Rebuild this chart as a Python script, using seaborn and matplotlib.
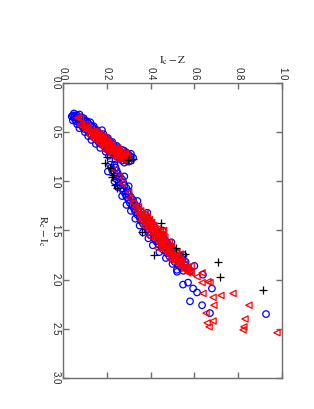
import matplotlib
matplotlib.use('Agg')
import matplotlib.pyplot as plt
import seaborn as sns
import pandas as pd

# (R_c - I_c, I_c - Z) pairs
blue_pts = [
    (0.33, 0.045), (0.33, 0.055), (0.33, 0.065),
    (0.35, 0.05), (0.35, 0.06), (0.35, 0.075), (0.35, 0.085),
    (0.37, 0.055), (0.37, 0.07), (0.37, 0.09),
    (0.39, 0.06), (0.39, 0.08), (0.39, 0.10), (0.39, 0.11),
    (0.41, 0.075), (0.41, 0.095), (0.41, 0.115),
    (0.43, 0.085), (0.43, 0.10), (0.43, 0.125),
    (0.45, 0.09), (0.45, 0.115), (0.45, 0.135),
    (0.47, 0.10), (0.47, 0.125), (0.47, 0.145), (0.48, 0.178),
    (0.49, 0.115), (0.49, 0.135), (0.49, 0.155),
    (0.51, 0.12), (0.51, 0.145), (0.51, 0.165),
    (0.53, 0.13), (0.53, 0.155), (0.53, 0.175),
    (0.55, 0.14), (0.55, 0.165), (0.55, 0.19),
    (0.57, 0.15), (0.57, 0.175), (0.57, 0.20),
    (0.59, 0.16), (0.59, 0.185), (0.59, 0.21),
    (0.61, 0.165), (0.61, 0.195), (0.61, 0.22),
    (0.63, 0.18), (0.63, 0.205), (0.63, 0.23),
    (0.65, 0.19), (0.65, 0.215), (0.65, 0.24),
    (0.67, 0.20), (0.67, 0.225), (0.67, 0.25),
    (0.69, 0.21), (0.69, 0.235), (0.69, 0.26), (0.69, 0.28),
    (0.71, 0.22), (0.71, 0.245), (0.71, 0.27), (0.71, 0.29),
    (0.73, 0.235), (0.73, 0.255), (0.73, 0.28), (0.73, 0.30),
    (0.75, 0.245), (0.75, 0.27), (0.75, 0.29), (0.75, 0.31),
    (0.77, 0.26), (0.77, 0.28), (0.77, 0.30),
    (0.79, 0.27), (0.79, 0.29), (0.79, 0.31),
    (0.31, 0.05), (0.32, 0.075), (0.34, 0.04), (0.36, 0.095),
    (0.38, 0.045), (0.40, 0.125), (0.42, 0.065), (0.44, 0.14),
    (0.46, 0.075), (0.48, 0.155), (0.50, 0.10), (0.52, 0.185),
    (0.54, 0.115), (0.56, 0.205), (0.58, 0.13), (0.60, 0.225),
    (0.62, 0.15), (0.64, 0.245), (0.66, 0.17), (0.68, 0.27),
    (0.70, 0.195), (0.72, 0.31), (0.74, 0.21), (0.76, 0.32),
    (0.78, 0.24), (0.80, 0.30), (0.81, 0.28),
    (0.83, 0.215), (0.83, 0.235), (0.86, 0.22), (0.86, 0.24),
    (0.89, 0.225), (0.89, 0.245), (0.92, 0.235), (0.92, 0.25),
    (0.95, 0.24), (0.95, 0.26), (0.98, 0.245), (0.98, 0.27),
    (1.01, 0.255), (1.01, 0.275), (1.04, 0.26), (1.04, 0.28),
    (1.07, 0.27), (1.07, 0.29), (1.10, 0.275), (1.10, 0.295),
    (1.13, 0.285), (1.13, 0.30), (1.16, 0.29), (1.16, 0.31),
    (1.19, 0.30), (1.19, 0.32), (1.22, 0.305), (1.22, 0.325),
    (1.25, 0.315), (1.25, 0.335), (1.28, 0.325), (1.28, 0.345),
    (1.31, 0.33), (1.31, 0.355),
    (1.34, 0.34), (1.34, 0.36), (1.34, 0.375),
    (1.37, 0.35), (1.37, 0.37), (1.37, 0.385),
    (1.40, 0.355), (1.40, 0.38), (1.40, 0.395),
    (1.43, 0.365), (1.43, 0.39), (1.43, 0.405),
    (1.46, 0.375), (1.46, 0.40), (1.46, 0.415),
    (1.49, 0.385), (1.49, 0.405), (1.49, 0.425),
    (1.52, 0.39), (1.52, 0.415), (1.52, 0.435),
    (1.55, 0.40), (1.55, 0.425), (1.55, 0.45),
    (1.58, 0.415), (1.58, 0.44), (1.58, 0.46),
    (1.61, 0.425), (1.61, 0.45), (1.61, 0.47),
    (1.64, 0.435), (1.64, 0.46), (1.64, 0.48),
    (1.67, 0.45), (1.67, 0.47), (1.67, 0.495),
    (1.70, 0.46), (1.70, 0.485), (1.70, 0.505),
    (1.73, 0.475), (1.73, 0.50), (1.73, 0.52),
    (1.76, 0.485), (1.76, 0.51), (1.76, 0.535),
    (1.79, 0.50), (1.79, 0.525), (1.79, 0.545),
    (1.82, 0.51), (1.82, 0.54), (1.82, 0.56),
    (1.85, 0.525), (1.85, 0.555), (1.88, 0.54), (1.88, 0.565),
    (1.91, 0.55), (1.91, 0.58),
    (0.90, 0.205), (1.00, 0.235), (1.06, 0.25), (1.15, 0.27),
    (1.24, 0.29), (1.30, 0.31), (1.38, 0.33), (1.45, 0.35),
    (1.52, 0.365), (1.58, 0.39), (1.65, 0.41), (1.72, 0.44),
    (1.78, 0.47), (1.84, 0.50), (1.90, 0.52),
    (0.95, 0.28), (1.05, 0.30), (1.20, 0.34), (1.32, 0.385),
    (1.50, 0.455), (1.62, 0.495), (1.75, 0.55), (1.86, 0.60),
    (1.92, 0.521), (1.95, 0.639), (2.03, 0.571), (2.05, 0.548),
    (2.09, 0.594), (2.09, 0.680), (2.13, 0.612), (2.22, 0.580),
    (2.26, 0.635), (2.34, 0.671), (2.35, 0.927),
]

red_pts = [
    (0.35, 0.068), (0.36, 0.07), (0.36, 0.08), (0.43, 0.078),
    (0.42, 0.085), (0.42, 0.10), (0.45, 0.10), (0.45, 0.115),
    (0.48, 0.115), (0.48, 0.13),
    (0.50, 0.125), (0.50, 0.14), (0.50, 0.155),
    (0.52, 0.135), (0.52, 0.15), (0.52, 0.165),
    (0.54, 0.145), (0.54, 0.16), (0.54, 0.175),
    (0.56, 0.155), (0.56, 0.17), (0.56, 0.185),
    (0.58, 0.165), (0.58, 0.18), (0.58, 0.195),
    (0.60, 0.175), (0.60, 0.19), (0.60, 0.205),
    (0.62, 0.185), (0.62, 0.20), (0.62, 0.215),
    (0.64, 0.195), (0.64, 0.21), (0.64, 0.225),
    (0.66, 0.205), (0.66, 0.22), (0.66, 0.235), (0.66, 0.25),
    (0.68, 0.21), (0.68, 0.225), (0.68, 0.24), (0.68, 0.255),
    (0.70, 0.225), (0.70, 0.24), (0.70, 0.255), (0.70, 0.27),
    (0.72, 0.235), (0.72, 0.25), (0.72, 0.265), (0.72, 0.28),
    (0.74, 0.245), (0.74, 0.26), (0.74, 0.275),
    (0.76, 0.255), (0.76, 0.27), (0.76, 0.285),
    (0.78, 0.27), (0.78, 0.28),
    (0.47, 0.10), (0.49, 0.145), (0.53, 0.12), (0.55, 0.185),
    (0.57, 0.14), (0.59, 0.205), (0.61, 0.165), (0.63, 0.225),
    (0.65, 0.18), (0.67, 0.245), (0.69, 0.195), (0.71, 0.285),
    (0.73, 0.22), (0.75, 0.295), (0.77, 0.245),
    (0.88, 0.235), (0.95, 0.255), (1.02, 0.27), (1.11, 0.30),
    (1.17, 0.305), (1.22, 0.32), (1.26, 0.33), (1.26, 0.345),
    (1.30, 0.34), (1.30, 0.355),
    (1.33, 0.345), (1.33, 0.36), (1.33, 0.375),
    (1.36, 0.355), (1.36, 0.37), (1.36, 0.385),
    (1.39, 0.365), (1.39, 0.38), (1.39, 0.395),
    (1.42, 0.375), (1.42, 0.39), (1.42, 0.405),
    (1.45, 0.385), (1.45, 0.40), (1.45, 0.415),
    (1.48, 0.39), (1.48, 0.405), (1.48, 0.42), (1.48, 0.435),
    (1.51, 0.40), (1.51, 0.415), (1.51, 0.43), (1.51, 0.445),
    (1.54, 0.41), (1.54, 0.425), (1.54, 0.44), (1.54, 0.455),
    (1.57, 0.42), (1.57, 0.435), (1.57, 0.45), (1.57, 0.465),
    (1.60, 0.43), (1.60, 0.445), (1.60, 0.46),
    (1.63, 0.44), (1.63, 0.455), (1.63, 0.47),
    (1.66, 0.45), (1.66, 0.465), (1.66, 0.48), (1.66, 0.495),
    (1.69, 0.46), (1.69, 0.475), (1.69, 0.49),
    (1.72, 0.475), (1.72, 0.49), (1.72, 0.505), (1.72, 0.52),
    (1.75, 0.485), (1.75, 0.50), (1.75, 0.515),
    (1.78, 0.50), (1.78, 0.515), (1.78, 0.53),
    (1.81, 0.51), (1.81, 0.525), (1.81, 0.54),
    (1.84, 0.525), (1.84, 0.54), (1.84, 0.555),
    (1.87, 0.54), (1.87, 0.555), (1.87, 0.57),
    (1.90, 0.555), (1.90, 0.57), (1.93, 0.57), (1.93, 0.585),
    (1.40, 0.355), (1.46, 0.37), (1.50, 0.46), (1.56, 0.395),
    (1.62, 0.485), (1.68, 0.43), (1.74, 0.535), (1.80, 0.49),
    (1.86, 0.585),
    (1.92, 0.58), (1.93, 0.635), (1.97, 0.612), (2.02, 0.662),
    (2.03, 0.635), (2.03, 0.671), (2.14, 0.639), (2.18, 0.685),
    (2.16, 0.721), (2.14, 0.776), (2.26, 0.689), (2.26, 0.849),
    (2.34, 0.653), (2.42, 0.685), (2.44, 0.658), (2.48, 0.667),
    (2.40, 0.831), (2.48, 0.826), (2.51, 0.822), (2.54, 0.977),
]

black_pts = [
    (0.75, 0.201), (0.81, 0.192), (0.86, 0.215), (0.78, 0.297),
    (0.77, 0.320), (0.96, 0.224), (1.04, 0.237), (1.07, 0.247),
    (0.94, 0.228), (1.42, 0.447), (1.52, 0.361), (1.75, 0.416),
    (1.68, 0.516), (1.74, 0.557), (1.82, 0.708), (1.97, 0.717),
    (2.11, 0.913),
]

rc_ic_ticks = [0.0, 0.5, 1.0, 1.5, 2.0, 2.5, 3.0]
ic_z_ticks = [0.0, 0.2, 0.4, 0.6, 0.8, 1.0]

sns.set_style('ticks')
plt.rcParams['font.family'] = ['Liberation Sans', 'DejaVu Sans']
plt.rcParams['mathtext.fontset'] = 'stix'

fig = plt.figure(figsize=(3.14, 4.09), dpi=100)
ax = fig.add_axes([0.2006, 0.0758, 0.6975, 0.7213])

def frame(pts):
    return pd.DataFrame(pts, columns=['rc_ic', 'ic_z'])

sns.scatterplot(data=frame(blue_pts), x='ic_z', y='rc_ic', ax=ax, marker='o',
                s=22, facecolors='none', edgecolor='blue', linewidth=0.9, zorder=2)
sns.scatterplot(data=frame(red_pts), x='ic_z', y='rc_ic', ax=ax, marker='<',
                s=20, facecolors='none', edgecolor='red', linewidth=0.9, zorder=3)
sns.scatterplot(data=frame(black_pts), x='ic_z', y='rc_ic', ax=ax, marker='+',
                s=32, color='black', linewidth=0.9, zorder=4)

ax.set_xlim(0, 1)
ax.set_ylim(3, 0)
ax.set_xticks(ic_z_ticks)
ax.set_yticks(rc_ic_ticks)
ax.xaxis.set_major_formatter(matplotlib.ticker.FormatStrFormatter('%.1f'))
ax.yaxis.set_major_formatter(matplotlib.ticker.FormatStrFormatter('%.1f'))

gray = '#6e6e6e'
for sp in ax.spines.values():
    sp.set_color(gray)
    sp.set_linewidth(1.0)
    sp.set_visible(True)

ax.tick_params(axis='both', which='major', direction='in', length=4.5, width=1.0,
               color=gray, labelsize=7, top=True, bottom=True, left=True, right=True,
               labeltop=True, labelbottom=False, labelleft=True, labelright=False)
ax.tick_params(axis='x', labelrotation=-90, pad=2)
ax.tick_params(axis='y', labelrotation=-90, pad=2)
for lab in ax.get_yticklabels():
    lab.set_va('center')

ax.xaxis.set_label_position('top')
ax.set_xlabel(r'$\mathrm{I_c - Z}$', fontsize=8, labelpad=2)
ax.set_ylabel('')
ax.text(-0.096, 0.498, r'$\mathrm{R_c - I_c}$', transform=ax.transAxes,
        rotation=270, ha='center', va='center', fontsize=8)

fig.savefig('out.png', dpi=100)
